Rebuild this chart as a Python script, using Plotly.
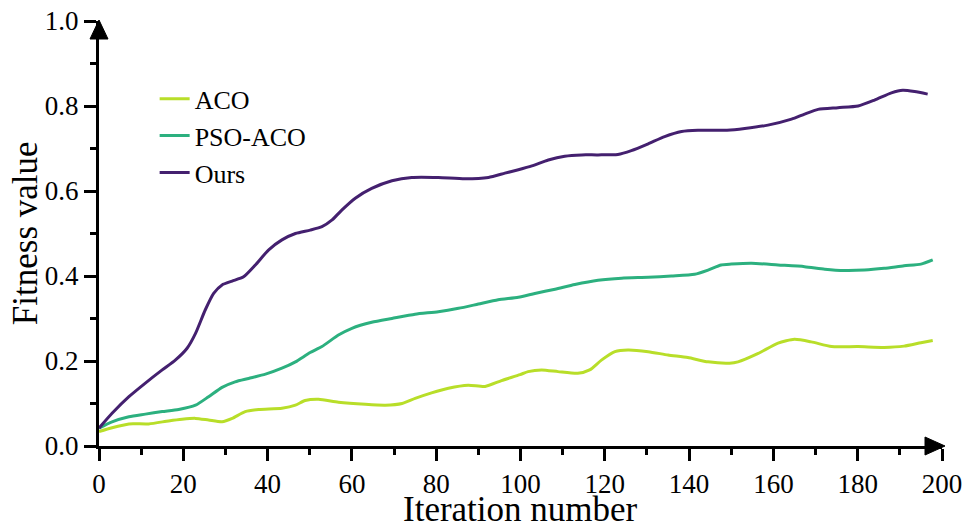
import plotly.graph_objects as go

# ---- data ----
aco_x = [0, 3.1, 7.1, 11.8, 16.5, 19.7, 22.9, 26, 29.2, 31.6, 34.7, 37.9, 43.4, 46.6, 48.9, 52.1,
         56.8, 63.2, 67.9, 71.9, 75, 78.9, 82.9, 87.6, 91.6, 95.5, 99.9, 101.8, 105, 108.9, 113.6,
         116.4, 119.2, 122.4, 125.5, 130.3, 135, 139.7, 144.5, 149.6, 151.6, 156.4, 161.1, 165,
         169, 173.8, 180.1, 186.3, 191, 195, 197.8]
aco_y = [0.034, 0.043, 0.052, 0.052, 0.059, 0.063, 0.065, 0.061, 0.057, 0.065, 0.081, 0.086, 0.089,
         0.096, 0.107, 0.110, 0.103, 0.098, 0.096, 0.100, 0.112, 0.125, 0.136, 0.143, 0.140, 0.154,
         0.168, 0.175, 0.179, 0.175, 0.171, 0.179, 0.202, 0.222, 0.226, 0.222, 0.214, 0.208, 0.198,
         0.195, 0.198, 0.218, 0.242, 0.251, 0.245, 0.234, 0.234, 0.232, 0.235, 0.243, 0.248]

pso_x = [0, 3.1, 7.1, 11, 15, 18.9, 22.9, 26, 29.2, 32.3, 35.5, 39.5, 43.4, 46.6, 50.1, 52.9, 56.8,
         60, 64.7, 69.5, 75, 80.5, 85.3, 90, 94.7, 99.5, 103.4, 108.2, 112.9, 118.4, 124, 130.3,
         135.8, 141.3, 144.5, 147.6, 150, 154.8, 161.1, 167.4, 172.2, 176.9, 181.6, 186.3, 191,
         195, 197.8]
pso_y = [0.042, 0.057, 0.069, 0.075, 0.081, 0.086, 0.096, 0.116, 0.138, 0.151, 0.159, 0.169, 0.183,
         0.198, 0.220, 0.234, 0.261, 0.277, 0.291, 0.300, 0.310, 0.316, 0.324, 0.334, 0.344, 0.350,
         0.359, 0.369, 0.380, 0.390, 0.395, 0.397, 0.400, 0.404, 0.414, 0.426, 0.428, 0.430, 0.426,
         0.422, 0.416, 0.413, 0.414, 0.418, 0.424, 0.428, 0.438]

ours_x = [0, 3.1, 7.1, 11, 15, 18.1, 20.9, 22.9, 25.2, 27.2, 29.2, 31.6, 34.3, 37.1, 40.2, 43.4,
          46.6, 50.1, 52.9, 55.3, 57.6, 60.8, 64.7, 69.5, 74.2, 80.5, 86.8, 92.4, 96.3, 99.5,
          102.7, 106.6, 110.5, 114.5, 118.4, 123.1, 126.3, 130.3, 134.2, 138.2, 142.1, 149, 153.2,
          158.7, 164.3, 167.4, 170.6, 175.3, 180.1, 184, 188, 190.7, 193.5, 196.6]
ours_y = [0.042, 0.077, 0.116, 0.148, 0.179, 0.202, 0.230, 0.265, 0.320, 0.359, 0.379, 0.388, 0.398,
          0.426, 0.461, 0.485, 0.500, 0.508, 0.516, 0.532, 0.555, 0.583, 0.606, 0.624, 0.632, 0.632,
          0.629, 0.632, 0.642, 0.650, 0.659, 0.673, 0.682, 0.685, 0.685, 0.686, 0.695, 0.711, 0.728,
          0.740, 0.743, 0.743, 0.747, 0.755, 0.769, 0.781, 0.792, 0.796, 0.800, 0.814, 0.831, 0.837,
          0.834, 0.828]

names = ["ACO", "PSO-ACO", "Ours"]
colors = ["#b8de29", "#2cb07f", "#44206f"]
x_ticks = list(range(0, 201, 20))
y_ticks = [0.0, 0.2, 0.4, 0.6, 0.8, 1.0]
x_title = "Iteration number"
y_title = "Fitness value"

FONT = "Liberation Serif"

fig = go.Figure()
for nm, xs, ys, c in zip(names, [aco_x, pso_x, ours_x], [aco_y, pso_y, ours_y], colors):
    fig.add_trace(go.Scatter(x=xs, y=ys, name=nm, mode="lines",
                             line=dict(color=c, width=3, shape="spline", smoothing=0.6)))

axis_common = dict(showline=True, linecolor="black", linewidth=3, ticks="outside",
                   ticklen=12, tickwidth=3, tickcolor="black", showgrid=False, zeroline=False,
                   automargin=False,
                   tickfont=dict(family=FONT, size=27, color="black"))

fig.update_layout(
    width=966, height=526,
    margin=dict(l=99, r=24, t=21, b=80),
    paper_bgcolor="white", plot_bgcolor="white",
    font=dict(family=FONT, color="black"),
    xaxis=dict(range=[0, 200], tickvals=x_ticks,
               minor=dict(dtick=10, tick0=0, ticks="outside", ticklen=6, tickwidth=3, tickcolor="black"),
               **axis_common),
    yaxis=dict(range=[0, 1.0], tickvals=y_ticks, tickformat=".1f",
               minor=dict(dtick=0.1, tick0=0, ticks="outside", ticklen=6, tickwidth=3, tickcolor="black"),
               **axis_common),
    legend=dict(x=0.066, y=0.872, xanchor="left", yanchor="top", bgcolor="rgba(0,0,0,0)",
                font=dict(family=FONT, size=26, color="black"), tracegroupgap=0),
    showlegend=True,
)

# axis titles
fig.add_annotation(text=x_title, xref="paper", yref="paper", x=0.5, y=-0.2,
                   xanchor="center", yanchor="bottom", showarrow=False,
                   font=dict(family=FONT, size=35, color="black"))
fig.add_annotation(text=y_title, xref="paper", yref="paper", x=-0.087, y=0.5,
                   xanchor="center", yanchor="middle", showarrow=False, textangle=-90,
                   font=dict(family=FONT, size=35, color="black"))

# axis arrow heads
fig.add_shape(type="path", xref="paper", yref="paper", xsizemode="pixel", ysizemode="pixel",
              xanchor=0, yanchor=1, path="M-9,-18 L9,-18 L0,1 Z",
              fillcolor="black", line=dict(color="black", width=1))
fig.add_shape(type="path", xref="paper", yref="paper", xsizemode="pixel", ysizemode="pixel",
              xanchor=1, yanchor=0, path="M-17,9 L-17,-9 L3,0 Z",
              fillcolor="black", line=dict(color="black", width=1))

fig.write_html("out.html", config={"displayModeBar": False},
               post_script="document.body.style.margin='0';document.body.style.overflow='hidden';")
